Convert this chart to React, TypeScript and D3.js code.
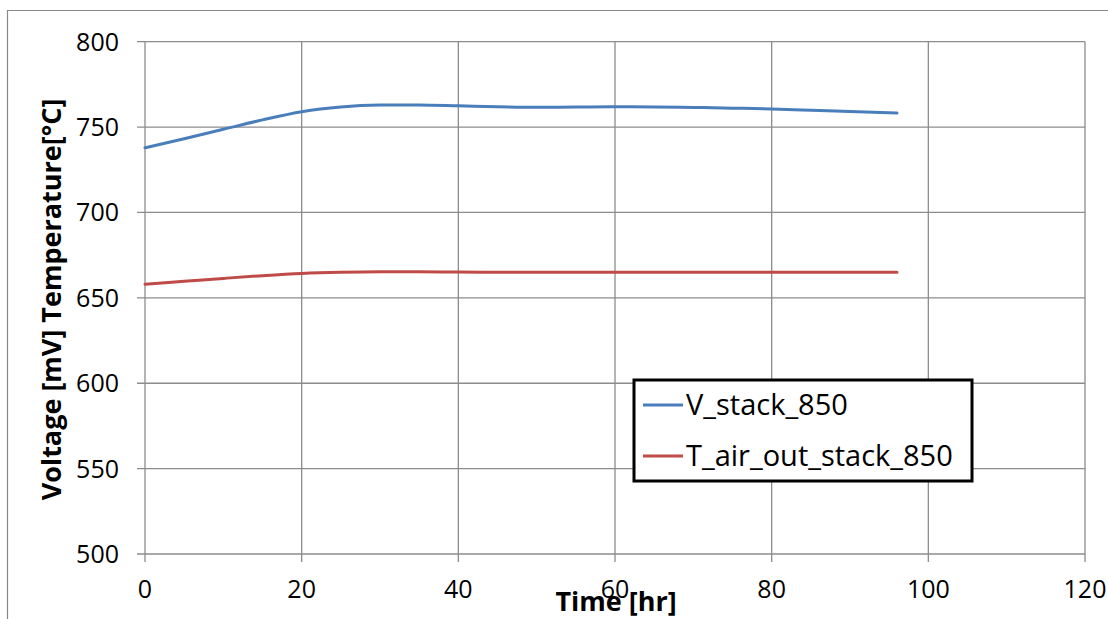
import React from "react";
import * as d3 from "d3";

const timeHr = [0, 5, 10, 15, 20, 25, 30, 35, 40, 45, 50, 55, 60, 65, 70, 75, 80, 85, 90, 96];
const vStack850 = [737.9, 743.2, 748.7, 754.2, 759.0, 761.8, 762.9, 763.0, 762.5, 761.9, 761.6, 761.7, 761.9, 761.8, 761.5, 761.1, 760.6, 759.9, 759.1, 758.2];
const tAirOut850 = [658.0, 659.7, 661.4, 663.0, 664.3, 665.0, 665.3, 665.3, 665.1, 665.0, 665.0, 665.0, 665.0, 665.0, 665.0, 665.0, 665.0, 665.0, 665.0, 665.0];
const xTicks = [0, 20, 40, 60, 80, 100, 120];
const yTicks = [500, 550, 600, 650, 700, 750, 800];
const seriesNames = ["V_stack_850", "T_air_out_stack_850"];
const seriesColors = ["#4a7ebb", "#be4b48"];

const W = 1108;
const H = 619;
const FONT = "'Open Sans', sans-serif";

export default function App() {
  const x = d3.scaleLinear().domain([0, 120]).range([145, 1085]);
  const y = d3.scaleLinear().domain([500, 800]).range([554, 41.7]);
  const line = d3
    .line<[number, number]>()
    .x((d) => x(d[0]))
    .y((d) => y(d[1]))
    .curve(d3.curveMonotoneX);
  const series = [vStack850, tAirOut850].map((vals) =>
    vals.map((v, i) => [timeHr[i], v] as [number, number])
  );
  const gridColor = "#8c8c8c";
  return (
    <svg
      width={W}
      height={H}
      style={{ position: "absolute", left: 0, top: 0, background: "#fff" }}
    >
      <rect x={0} y={0} width={W} height={H} fill="#fff" />
      {/* outer chart border */}
      <path d={`M7.5,${H + 2} L7.5,10.5 L${W + 2},10.5`} fill="none" stroke="#888" strokeWidth={1.2} />
      {/* grid */}
      {yTicks.map((t) => (
        <line key={"gy" + t} x1={137} x2={x(120)} y1={y(t)} y2={y(t)} stroke={gridColor} strokeWidth={1.3} />
      ))}
      {xTicks.map((t) => (
        <line key={"gx" + t} x1={x(t)} x2={x(t)} y1={y(800)} y2={y(500) + 8} stroke={gridColor} strokeWidth={1.3} />
      ))}
      {/* y labels */}
      {yTicks.map((t) => (
        <text key={"yl" + t} x={119} y={y(t) + 9} textAnchor="end" fontFamily={FONT} fontSize={25} fill="#000">
          {t}
        </text>
      ))}
      {/* x labels */}
      {xTicks.map((t) => (
        <text key={"xl" + t} x={x(t)} y={598} textAnchor="middle" fontFamily={FONT} fontSize={25} fill="#000">
          {t}
        </text>
      ))}
      {/* lines */}
      {series.map((s, i) => (
        <path key={"s" + i} d={line(s) || ""} fill="none" stroke={seriesColors[i]} strokeWidth={3} strokeLinecap="round" />
      ))}
      {/* axis titles */}
      <text
        transform={`translate(61,${(102 + 497) / 2}) rotate(-90)`}
        textAnchor="middle"
        fontFamily={FONT}
        fontWeight="bold"
        fontSize={27}
        fill="#000"
      >
        Voltage [mV] Temperature[°C]
      </text>
      <text x={616} y={611} textAnchor="middle" fontFamily={FONT} fontWeight="bold" fontSize={27} fill="#000">
        Time [hr]
      </text>
      {/* legend */}
      <rect x={634} y={380} width={338} height={101} fill="#fff" stroke="#000" strokeWidth={3} />
      {seriesNames.map((n, i) => (
        <g key={"lg" + i}>
          <line x1={643} x2={683} y1={405 + i * 51} y2={405 + i * 51} stroke={seriesColors[i]} strokeWidth={3} />
          <text x={686} y={405 + i * 51 + 10} fontFamily={FONT} fontSize={29} fill="#000">
            {n}
          </text>
        </g>
      ))}
    </svg>
  );
}
